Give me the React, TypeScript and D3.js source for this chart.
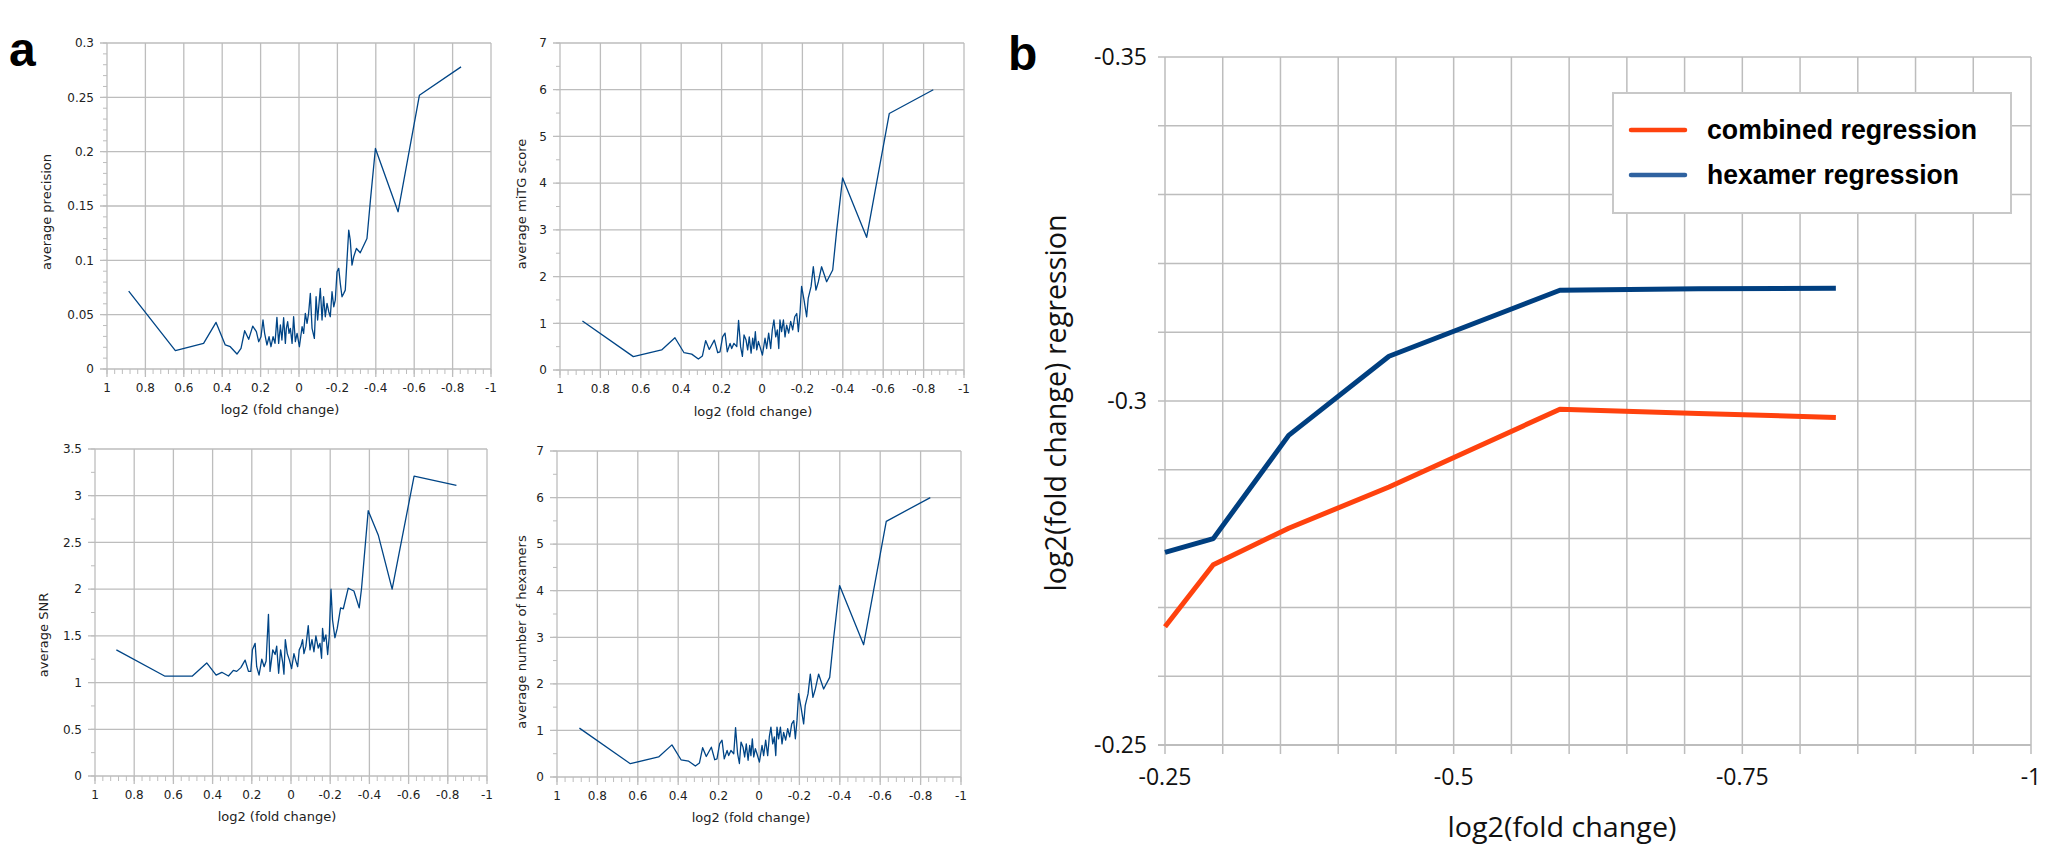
import React from 'react';
import * as d3 from 'd3';

type Pt = [number, number];

// ---------- Panel a data (x = log2 fold change, y = average value) ----------
const precisionPoints: Pt[] = [
  [0.887, 0.0717], [0.644, 0.0169], [0.497, 0.0236], [0.432, 0.0429], [0.384, 0.0221], [0.358, 0.0205],
  [0.323, 0.0138], [0.302, 0.019], [0.283, 0.0352], [0.262, 0.0273], [0.241, 0.0395], [0.222, 0.0343],
  [0.21, 0.0251], [0.198, 0.0297], [0.1875, 0.0451], [0.179, 0.0328], [0.167, 0.0221], [0.156, 0.0297],
  [0.146, 0.0205], [0.135, 0.0297], [0.125, 0.0236], [0.115, 0.0475], [0.106, 0.0236], [0.097, 0.0405],
  [0.089, 0.0267], [0.08, 0.0472], [0.071, 0.0236], [0.066, 0.0374], [0.059, 0.0435], [0.052, 0.0328],
  [0.045, 0.0374], [0.036, 0.0236], [0.028, 0.0481], [0.019, 0.0251], [0.01, 0.0328], [-0.002, 0.0205],
  [-0.016, 0.0389], [-0.024, 0.0328], [-0.033, 0.0512], [-0.042, 0.042], [-0.05, 0.0512], [-0.059, 0.0696],
  [-0.068, 0.0374], [-0.08, 0.0282], [-0.089, 0.0665], [-0.097, 0.0451], [-0.111, 0.0742], [-0.12, 0.0451],
  [-0.128, 0.0665], [-0.137, 0.0481], [-0.146, 0.0604], [-0.155, 0.0527], [-0.163, 0.0481], [-0.172, 0.0711],
  [-0.181, 0.0573], [-0.189, 0.0634], [-0.198, 0.0895], [-0.207, 0.0926], [-0.215, 0.0788], [-0.224, 0.0665],
  [-0.233, 0.0696], [-0.241, 0.0726], [-0.25, 0.1002], [-0.259, 0.1278], [-0.267, 0.1186], [-0.276, 0.0956],
  [-0.285, 0.1033], [-0.299, 0.1109], [-0.319, 0.107], [-0.354, 0.1201], [-0.372, 0.1554], [-0.398, 0.2029],
  [-0.516, 0.1447], [-0.627, 0.2519], [-0.844, 0.278],
];

const mitgScorePoints: Pt[] = [
  [0.889, 1.05], [0.637, 0.286], [0.497, 0.43], [0.431, 0.69], [0.386, 0.37], [0.348, 0.34], [0.315, 0.236],
  [0.295, 0.3], [0.279, 0.63], [0.261, 0.44], [0.236, 0.64], [0.219, 0.37], [0.208, 0.39], [0.195, 0.71],
  [0.183, 0.79], [0.172, 0.39], [0.158, 0.57], [0.15, 0.46], [0.139, 0.57], [0.125, 0.5], [0.116, 1.06],
  [0.106, 0.5], [0.097, 0.29], [0.089, 0.75], [0.079, 0.64], [0.071, 0.43], [0.063, 0.71], [0.054, 0.36],
  [0.046, 0.68], [0.04, 0.46], [0.033, 0.82], [0.026, 0.43], [0.018, 0.61], [0.01, 0.5], [-0.002, 0.32],
  [-0.015, 0.68], [-0.023, 0.46], [-0.033, 0.79], [-0.043, 0.46], [-0.051, 0.86], [-0.059, 1.07], [-0.068, 0.71],
  [-0.076, 0.86], [-0.083, 0.46], [-0.089, 1.07], [-0.097, 0.82], [-0.106, 1.07], [-0.114, 0.71], [-0.122, 0.96],
  [-0.132, 0.79], [-0.142, 1.04], [-0.152, 0.86], [-0.162, 1.14], [-0.172, 1.21], [-0.18, 0.82], [-0.188, 1.21],
  [-0.196, 1.79], [-0.208, 1.5], [-0.221, 1.14], [-0.229, 1.54], [-0.243, 1.79], [-0.254, 2.21], [-0.267, 1.71],
  [-0.279, 1.89], [-0.295, 2.21], [-0.32, 1.89], [-0.35, 2.14], [-0.37, 3.0], [-0.399, 4.11], [-0.518, 2.84],
  [-0.63, 5.49], [-0.848, 6.0],
];

const snrPoints: Pt[] = [
  [0.891, 1.35], [0.645, 1.07], [0.503, 1.07], [0.43, 1.21], [0.382, 1.08], [0.353, 1.11], [0.319, 1.07],
  [0.294, 1.13], [0.277, 1.12], [0.256, 1.16], [0.234, 1.24], [0.217, 1.12], [0.205, 1.12], [0.197, 1.35],
  [0.183, 1.42], [0.175, 1.17], [0.163, 1.08], [0.149, 1.25], [0.137, 1.17], [0.127, 1.23], [0.115, 1.73],
  [0.107, 1.12], [0.093, 1.35], [0.081, 1.3], [0.073, 1.39], [0.063, 1.1], [0.053, 1.35], [0.042, 1.21],
  [0.036, 1.09], [0.029, 1.46], [0.019, 1.31], [0.008, 1.24], [-0.003, 1.15], [-0.015, 1.31], [-0.025, 1.23],
  [-0.034, 1.17], [-0.042, 1.35], [-0.051, 1.39], [-0.059, 1.46], [-0.066, 1.31], [-0.076, 1.39], [-0.088, 1.61],
  [-0.097, 1.35], [-0.107, 1.46], [-0.117, 1.33], [-0.127, 1.5], [-0.139, 1.37], [-0.148, 1.42], [-0.156, 1.26],
  [-0.161, 1.58], [-0.168, 1.44], [-0.178, 1.51], [-0.187, 1.3], [-0.195, 1.49], [-0.204, 2.0], [-0.212, 1.67],
  [-0.224, 1.48], [-0.236, 1.58], [-0.253, 1.8], [-0.267, 1.79], [-0.292, 2.01], [-0.321, 1.98], [-0.348, 1.8],
  [-0.36, 2.01], [-0.394, 2.84], [-0.445, 2.58], [-0.516, 2.0], [-0.628, 3.21], [-0.844, 3.11],
];

const hexamerCountPoints: Pt[] = [
  [0.889, 1.05], [0.637, 0.286], [0.497, 0.43], [0.431, 0.69], [0.386, 0.37], [0.348, 0.34], [0.315, 0.236],
  [0.295, 0.3], [0.279, 0.63], [0.261, 0.44], [0.236, 0.64], [0.219, 0.37], [0.208, 0.39], [0.195, 0.71],
  [0.183, 0.79], [0.172, 0.39], [0.158, 0.57], [0.15, 0.46], [0.139, 0.57], [0.125, 0.5], [0.116, 1.06],
  [0.106, 0.5], [0.097, 0.29], [0.089, 0.75], [0.079, 0.64], [0.071, 0.43], [0.063, 0.71], [0.054, 0.36],
  [0.046, 0.68], [0.04, 0.46], [0.033, 0.82], [0.026, 0.43], [0.018, 0.61], [0.01, 0.5], [-0.002, 0.32],
  [-0.015, 0.68], [-0.023, 0.46], [-0.033, 0.79], [-0.043, 0.46], [-0.051, 0.86], [-0.059, 1.07], [-0.068, 0.71],
  [-0.076, 0.86], [-0.083, 0.46], [-0.089, 1.07], [-0.097, 0.82], [-0.106, 1.07], [-0.114, 0.71], [-0.122, 0.96],
  [-0.132, 0.79], [-0.142, 1.04], [-0.152, 0.86], [-0.162, 1.14], [-0.172, 1.21], [-0.18, 0.82], [-0.188, 1.21],
  [-0.196, 1.79], [-0.208, 1.5], [-0.221, 1.14], [-0.229, 1.54], [-0.243, 1.79], [-0.254, 2.21], [-0.267, 1.71],
  [-0.279, 1.89], [-0.295, 2.21], [-0.32, 1.89], [-0.35, 2.14], [-0.37, 3.0], [-0.399, 4.11], [-0.518, 2.84],
  [-0.63, 5.49], [-0.848, 6.0],
];

const aXTicks = [1, 0.8, 0.6, 0.4, 0.2, 0, -0.2, -0.4, -0.6, -0.8, -1];
const aXTickLabels = ['1', '0.8', '0.6', '0.4', '0.2', '0', '-0.2', '-0.4', '-0.6', '-0.8', '-1'];
const precisionYTicks = [0, 0.05, 0.1, 0.15, 0.2, 0.25, 0.3];
const precisionYLabels = ['0', '0.05', '0.1', '0.15', '0.2', '0.25', '0.3'];
const countYTicks = [0, 1, 2, 3, 4, 5, 6, 7];
const countYLabels = ['0', '1', '2', '3', '4', '5', '6', '7'];
const snrYTicks = [0, 0.5, 1, 1.5, 2, 2.5, 3, 3.5];
const snrYLabels = ['0', '0.5', '1', '1.5', '2', '2.5', '3', '3.5'];

// ---------- Panel b data ----------
const regressionX = [-0.25, -0.2918, -0.3571, -0.444, -0.592, -0.712, -0.831];
const combinedRegression = [-0.2672, -0.2762, -0.2815, -0.2875, -0.2988, -0.2982, -0.2976];
const hexamerRegression = [-0.278, -0.28, -0.295, -0.3065, -0.3161, -0.3163, -0.3164];
const bXTicks = [-0.25, -0.5, -0.75, -1];
const bXTickLabels = ['-0.25', '-0.5', '-0.75', '-1'];
const bYTicks = [-0.35, -0.3, -0.25];
const bYTickLabels = ['-0.35', '-0.3', '-0.25'];
const bSeries = ['combined regression', 'hexamer regression'];

const GRID = '#bdbdbd';
const LINE_A = '#004586';
const RED = '#ff420e';
const NAVY = '#003f80';

type Box = { l: number; r: number; t: number; b: number };

function SmallChart(props: {
  box: Box; yMax: number; yTicks: number[]; yLabels: string[]; yMinorStep: number;
  points: Pt[]; yTitle: string; yTitleX: number; yTitleY: number; xTitleX: number; xTitleY: number;
}) {
  const { box, yMax, yTicks, yLabels, yMinorStep, points, yTitle, yTitleX, yTitleY, xTitleX, xTitleY } = props;
  const x = d3.scaleLinear().domain([1, -1]).range([box.l, box.r]);
  const y = d3.scaleLinear().domain([0, yMax]).range([box.b, box.t]);
  const minorX = d3.range(0, 51).map((i) => -1 + i * 0.04);
  const nMinorY = Math.round(yMax / yMinorStep);
  const minorY = d3.range(0, nMinorY + 1).map((i) => i * yMinorStep);
  const line = d3.line<Pt>().x((d) => x(d[0])).y((d) => y(d[1]));
  const font = "'DejaVu Sans', sans-serif";
  return (
    <g>
      {aXTicks.map((v, i) => (
        <line key={'vx' + i} x1={x(v)} x2={x(v)} y1={box.t} y2={box.b + 8} stroke={GRID} strokeWidth={1.3} />
      ))}
      {yTicks.map((v, i) => (
        <line key={'hy' + i} x1={box.l - 7} x2={box.r} y1={y(v)} y2={y(v)} stroke={GRID} strokeWidth={1.3} />
      ))}
      {minorX.map((v, i) => (
        <line key={'mx' + i} x1={x(v)} x2={x(v)} y1={box.b} y2={box.b + 5} stroke={GRID} strokeWidth={1} />
      ))}
      {minorY.map((v, i) => (
        <line key={'my' + i} x1={box.l - 4} x2={box.l} y1={y(v)} y2={y(v)} stroke={GRID} strokeWidth={1} />
      ))}
      {aXTicks.map((v, i) => (
        <text key={'tx' + i} x={x(v)} y={box.b + 23} textAnchor="middle" fontFamily={font} fontSize={12} fill="#222">
          {aXTickLabels[i]}
        </text>
      ))}
      {yTicks.map((v, i) => (
        <text key={'ty' + i} x={box.l - 13} y={y(v) + 4.3} textAnchor="end" fontFamily={font} fontSize={12} fill="#222">
          {yLabels[i]}
        </text>
      ))}
      <path d={line(points) || ''} fill="none" stroke={LINE_A} strokeWidth={1.3} strokeLinejoin="round" />
      <text x={xTitleX} y={xTitleY} textAnchor="middle" fontFamily={font} fontSize={13} fill="#222">
        log2 (fold change)
      </text>
      <text transform={`translate(${yTitleX},${yTitleY}) rotate(-90)`} textAnchor="middle" fontFamily={font} fontSize={13} fill="#222">
        {yTitle}
      </text>
    </g>
  );
}

function PanelB() {
  const box: Box = { l: 1165, r: 2031, t: 57, b: 745 };
  const x = d3.scaleLinear().domain([-0.25, -1]).range([box.l, box.r]);
  const y = d3.scaleLinear().domain([-0.35, -0.25]).range([box.t, box.b]);
  const vGrid = d3.range(0, 16).map((i) => -0.25 - i * 0.05);
  const hGrid = d3.range(0, 11).map((i) => -0.35 + i * 0.01);
  const line = d3.line<number>().x((_, i) => x(regressionX[i])).y((d) => y(d));
  const font = "'Open Sans', sans-serif";
  const seriesColors = [RED, NAVY];
  const legendColors = [RED, '#2f62a0'];
  const legendBox = { l: 1613, r: 2011, t: 93, b: 213 };
  return (
    <g>
      {vGrid.map((v, i) => (
        <line key={'bv' + i} x1={x(v)} x2={x(v)} y1={box.t} y2={box.b + 9} stroke={GRID} strokeWidth={1.5} />
      ))}
      {hGrid.map((v, i) => (
        <line key={'bh' + i} x1={box.l - 7} x2={box.r} y1={y(v)} y2={y(v)} stroke={GRID}
          strokeWidth={i === hGrid.length - 1 ? 2.2 : 1.5} />
      ))}
      {bYTicks.map((v, i) => (
        <text key={'by' + i} x={1147} y={y(v) + 8} textAnchor="end" fontFamily={font} fontSize={23} fill="#111">
          {bYTickLabels[i]}
        </text>
      ))}
      {bXTicks.map((v, i) => (
        <text key={'bx' + i} x={x(v)} y={785} textAnchor="middle" fontFamily={font} fontSize={23} fill="#111">
          {bXTickLabels[i]}
        </text>
      ))}
      <text x={1562} y={837} textAnchor="middle" fontFamily={font} fontSize={27} fill="#111"
        textLength={229} lengthAdjust="spacingAndGlyphs">
        log2(fold change)
      </text>
      <text transform="translate(1066,403) rotate(-90)" textAnchor="middle" fontFamily={font} fontSize={28.5} fill="#111"
        textLength={377} lengthAdjust="spacingAndGlyphs">
        log2(fold change) regression
      </text>
      {[combinedRegression, hexamerRegression].map((s, k) => (
        <path key={'s' + k} d={line(s) || ''} fill="none" stroke={seriesColors[k]} strokeWidth={5}
          strokeLinejoin="round" />
      ))}
      <rect x={legendBox.l} y={legendBox.t} width={legendBox.r - legendBox.l} height={legendBox.b - legendBox.t}
        fill="#fff" stroke="#c8c8c8" strokeWidth={2} />
      {bSeries.map((name, k) => (
        <g key={'lg' + k}>
          <line x1={1631} x2={1685} y1={130 + k * 45} y2={130 + k * 45} stroke={legendColors[k]} strokeWidth={4.5}
            strokeLinecap="round" />
          <text x={1707} y={139 + k * 45} fontFamily="'Liberation Sans', Arial, sans-serif" fontWeight="bold"
            fontSize={27} fill="#000" textLength={k === 0 ? 270 : 252} lengthAdjust="spacingAndGlyphs">
            {name}
          </text>
        </g>
      ))}
    </g>
  );
}

export default function App() {
  return (
    <svg width={2055} height={860} viewBox="0 0 2055 860"
      style={{ position: 'absolute', left: 0, top: 0, background: '#fff' }}>
      <rect x={0} y={0} width={2055} height={860} fill="#fff" />
      <text x={9} y={66} fontFamily="'Liberation Sans', Arial, sans-serif" fontWeight="bold" fontSize={48} fill="#000">a</text>
      <text x={1008} y={70} fontFamily="'Liberation Sans', Arial, sans-serif" fontWeight="bold" fontSize={48} fill="#000">b</text>
      <SmallChart box={{ l: 107, r: 491, t: 43, b: 369 }} yMax={0.3} yTicks={precisionYTicks} yLabels={precisionYLabels}
        yMinorStep={0.01} points={precisionPoints} yTitle="average precision" yTitleX={51} yTitleY={212}
        xTitleX={280} xTitleY={414} />
      <SmallChart box={{ l: 560, r: 964, t: 43, b: 370 }} yMax={7} yTicks={countYTicks} yLabels={countYLabels}
        yMinorStep={0.5} points={mitgScorePoints} yTitle="average miTG score" yTitleX={526} yTitleY={204}
        xTitleX={753} xTitleY={416} />
      <SmallChart box={{ l: 95, r: 487, t: 449, b: 776 }} yMax={3.5} yTicks={snrYTicks} yLabels={snrYLabels}
        yMinorStep={0.25} points={snrPoints} yTitle="average SNR" yTitleX={48} yTitleY={635}
        xTitleX={277} xTitleY={821} />
      <SmallChart box={{ l: 557, r: 961, t: 451, b: 777 }} yMax={7} yTicks={countYTicks} yLabels={countYLabels}
        yMinorStep={0.5} points={hexamerCountPoints} yTitle="average number of hexamers" yTitleX={526} yTitleY={632}
        xTitleX={751} xTitleY={822} />
      <PanelB />
    </svg>
  );
}
